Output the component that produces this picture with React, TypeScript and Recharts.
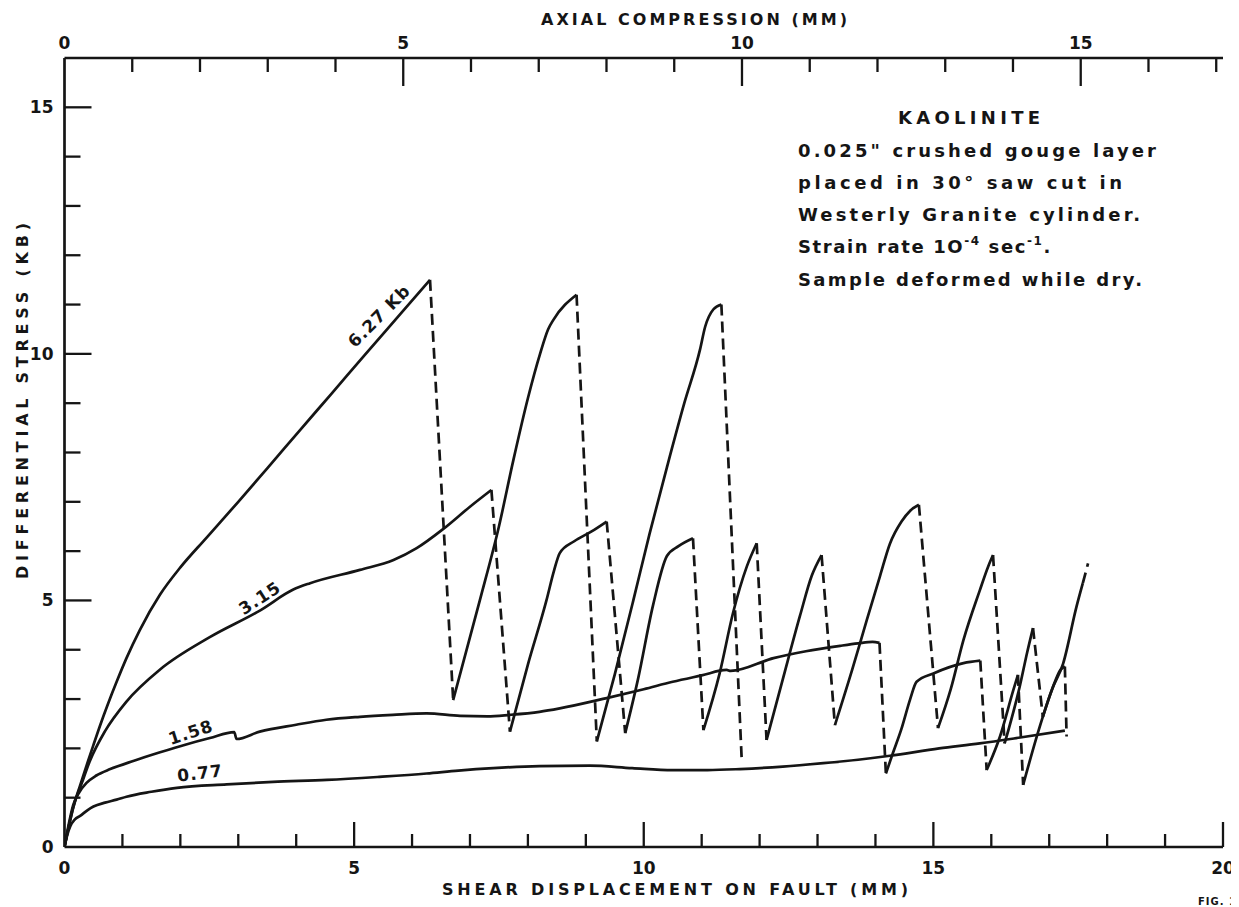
import React from 'react';
import { LineChart, Line, XAxis, YAxis, ReferenceDot } from 'recharts';

type Pt = [number, number];

// ---------- axis ticks ----------
const shearTicks = [0, 1, 2, 3, 4, 5, 6, 7, 8, 9, 10, 11, 12, 13, 14, 15, 16, 17, 18, 19, 20];
const shearTickLabels = [0, 5, 10, 15, 20];
const axialTicks = [0, 1, 2, 3, 4, 5, 6, 7, 8, 9, 10, 11, 12, 13, 14, 15, 16, 17];
const axialTickLabels = [0, 5, 10, 15];
const stressTicks = [0, 1, 2, 3, 4, 5, 6, 7, 8, 9, 10, 11, 12, 13, 14, 15];
const stressTickLabels = [0, 5, 10, 15];

// ---------- 6.27 Kb confining pressure (solid loading segments) ----------
const kb627Load1: Pt[] = [[0, 0], [0.08, 0.45], [0.15, 0.8], [0.27, 1.25], [0.4, 1.72], [0.5, 2.07], [0.61, 2.45], [0.75, 2.9], [0.9, 3.35], [1.07, 3.83], [1.3, 4.4], [1.65, 5.12], [2.0, 5.67], [2.45, 6.27], [3.0, 7.0], [3.5, 7.68], [4.07, 8.46], [4.6, 9.18], [5.2, 10.0], [5.8, 10.81], [6.31, 11.5]];
const kb627Load2: Pt[] = [[6.71, 2.98], [7.17, 5.0], [7.5, 6.5], [7.75, 7.85], [8.0, 9.1], [8.21, 10.0], [8.35, 10.5], [8.44, 10.69], [8.84, 11.2]];
const kb627Load3: Pt[] = [[9.19, 2.14], [9.5, 3.5], [9.82, 5.0], [10.1, 6.35], [10.4, 7.7], [10.7, 9.0], [10.97, 10.08], [11.06, 10.55], [11.2, 10.9], [11.34, 11.0]];
const kb627End: Pt[] = [[11.69, 1.8]];

// ---------- 3.15 Kb ----------
const kb315Load1: Pt[] = [[0, 0], [0.08, 0.45], [0.15, 0.8], [0.3, 1.3], [0.44, 1.75], [0.7, 2.35], [1.07, 2.95], [1.65, 3.6], [2.5, 4.25], [3.38, 4.8], [3.95, 5.22], [4.24, 5.35], [5.1, 5.62], [5.68, 5.82], [6.08, 6.06], [6.54, 6.45], [7.0, 6.9], [7.37, 7.24]];
const kb315Load2: Pt[] = [[7.69, 2.34], [8.0, 3.7], [8.32, 5.0], [8.45, 5.6], [8.55, 5.96], [8.8, 6.2], [9.1, 6.4], [9.36, 6.6]];
const kb315Load3: Pt[] = [[9.68, 2.31], [9.9, 3.4], [10.16, 4.9], [10.4, 5.9], [10.6, 6.1], [10.85, 6.26]];
const kb315Load4: Pt[] = [[11.03, 2.37], [11.31, 3.52], [11.54, 4.74], [11.78, 5.69], [11.95, 6.16]];
const kb315Load5: Pt[] = [[12.12, 2.17], [12.4, 3.4], [12.7, 4.7], [12.9, 5.5], [13.07, 5.92]];
const kb315Load6: Pt[] = [[13.3, 2.47], [13.6, 3.6], [13.85, 4.6], [14.08, 5.5], [14.25, 6.15], [14.45, 6.6], [14.6, 6.82], [14.75, 6.94]];
const kb315Load7: Pt[] = [[15.08, 2.41], [15.3, 3.2], [15.52, 4.2], [15.8, 5.2], [15.95, 5.7], [16.03, 5.92]];
const kb315Load8: Pt[] = [[16.23, 2.1], [16.49, 3.25], [16.62, 3.95], [16.72, 4.44]];
const kb315Load9: Pt[] = [[16.89, 2.64], [17.05, 3.2], [17.24, 3.72], [17.47, 4.87], [17.58, 5.35]];
const kb315End: Pt[] = [[17.67, 5.75]];

// ---------- 1.58 Kb ----------
const kb158Load1: Pt[] = [[0, 0], [0.08, 0.5], [0.15, 0.85], [0.25, 1.1], [0.38, 1.3], [0.55, 1.45], [0.79, 1.58], [1.2, 1.75], [1.65, 1.92], [2.1, 2.08], [2.51, 2.21], [2.93, 2.33], [2.97, 2.19], [3.37, 2.34], [4.0, 2.48], [4.52, 2.58], [5.1, 2.64], [5.67, 2.68], [6.25, 2.71], [6.83, 2.66], [7.3, 2.65], [7.69, 2.68], [8.2, 2.74], [8.55, 2.81], [9.36, 3.02], [10.0, 3.2], [10.5, 3.35], [11.0, 3.48], [11.43, 3.59], [11.5, 3.57], [12.24, 3.83], [12.8, 3.97], [13.39, 4.08], [13.7, 4.13], [13.95, 4.16], [14.07, 4.14]];
const kb158Load2: Pt[] = [[14.18, 1.49], [14.3, 1.9], [14.45, 2.4], [14.6, 3.0], [14.71, 3.35], [15.0, 3.52], [15.52, 3.73], [15.81, 3.78]];
const kb158Load3: Pt[] = [[15.92, 1.56], [16.15, 2.24], [16.38, 3.18], [16.46, 3.49]];
const kb158Load4: Pt[] = [[16.55, 1.26], [16.8, 2.3], [17.05, 3.2], [17.2, 3.6], [17.27, 3.66]];
const kb158End: Pt[] = [[17.3, 2.24]];

// ---------- 0.77 Kb ----------
const kb077Load1: Pt[] = [[0, 0], [0.05, 0.25], [0.1, 0.42], [0.18, 0.56], [0.27, 0.63], [0.4, 0.75], [0.5, 0.82], [0.7, 0.9], [0.9, 0.96], [1.07, 1.02], [1.5, 1.12], [1.94, 1.2], [2.8, 1.27], [3.6, 1.32], [4.53, 1.36], [5.4, 1.42], [6.25, 1.49], [6.8, 1.55], [7.4, 1.6], [8.2, 1.64], [9.07, 1.65], [9.8, 1.6], [10.5, 1.56], [11.1, 1.56], [11.66, 1.58], [12.4, 1.63], [13.1, 1.7], [13.7, 1.77], [14.25, 1.85], [15.1, 2.0], [15.8, 2.1], [16.5, 2.22], [17.27, 2.36]];

const curves = [
  { name: '6.27', segments: [kb627Load1, kb627Load2, kb627Load3, kb627End] },
  { name: '3.15', segments: [kb315Load1, kb315Load2, kb315Load3, kb315Load4, kb315Load5, kb315Load6, kb315Load7, kb315Load8, kb315Load9, kb315End] },
  { name: '1.58', segments: [kb158Load1, kb158Load2, kb158Load3, kb158Load4, kb158End] },
  { name: '0.77', segments: [kb077Load1] },
];

// label anchors (data units) for the confining pressure annotations
const curveLabels = [
  { text: '6.27 Kb', x: 5.43, y: 10.77, angle: -45 },
  { text: '3.15', x: 3.37, y: 5.05, angle: -33 },
  { text: '1.58', x: 2.18, y: 2.33, angle: -18 },
  { text: '0.77', x: 2.34, y: 1.5, angle: -7 },
];

const toRows = (pts: Pt[]) => pts.map(([x, y]) => ({ x, y }));

const solidSeries = curves.flatMap((c) =>
  c.segments
    .map((s, i) => ({ key: `${c.name}-solid-${i}`, data: toRows(s) }))
    .filter((s) => s.data.length > 1)
);
const dashedSeries = curves.flatMap((c) =>
  c.segments.slice(1).map((s, i) => {
    const prev = c.segments[i];
    return { key: `${c.name}-drop-${i}`, data: toRows([prev[prev.length - 1], s[0]]) };
  })
);

const INK = '#151515';
const FONT = '"DejaVu Sans", "Liberation Sans", sans-serif';

function BottomTick(props: any) {
  const { x, y, payload } = props;
  const v = payload.value;
  const major = v % 5 === 0;
  return (
    <g>
      {v !== 0 && <line x1={x} y1={y} x2={x} y2={y - (major ? 25 : 13)} stroke={INK} strokeWidth={2.3} />}
      {shearTickLabels.includes(v) && (
        <text x={x} y={y + 27} textAnchor="middle" fontFamily={FONT} fontWeight={700} fontSize={17} fill={INK}>
          {v}
        </text>
      )}
    </g>
  );
}

function TopTick(props: any) {
  const { x, y, payload } = props;
  const v = payload.value;
  const major = v % 5 === 0;
  return (
    <g>
      {v !== 0 && <line x1={x} y1={y} x2={x} y2={y + (major ? 28 : 14)} stroke={INK} strokeWidth={2.3} />}
      {axialTickLabels.includes(v) && (
        <text x={x} y={y - 9} textAnchor="middle" fontFamily={FONT} fontWeight={700} fontSize={17} fill={INK}>
          {v}
        </text>
      )}
    </g>
  );
}

function LeftTick(props: any) {
  const { x, y, payload } = props;
  const v = payload.value;
  const major = v % 5 === 0;
  return (
    <g>
      {v !== 0 && <line x1={x} y1={y} x2={x + (major ? 27 : 16)} y2={y} stroke={INK} strokeWidth={2.3} />}
      {stressTickLabels.includes(v) && (
        <text x={x - 11} y={y + 6} textAnchor="end" fontFamily={FONT} fontWeight={700} fontSize={17} fill={INK}>
          {v}
        </text>
      )}
    </g>
  );
}

function makeCurveLabel(text: string, angle: number) {
  return (props: any) => {
    const vb = props.viewBox || {};
    const cx = (vb.x ?? 0) + (vb.width ?? 0) / 2;
    const cy = (vb.y ?? 0) + (vb.height ?? 0) / 2;
    return (
      <text
        x={cx}
        y={cy}
        transform={`rotate(${angle} ${cx} ${cy})`}
        textAnchor="middle"
        dominantBaseline="central"
        fontFamily={FONT}
        fontWeight={700}
        fontSize={17}
        letterSpacing={1}
        fill={INK}
      >
        {text}
      </text>
    );
  };
}

const textStyle = { fontFamily: FONT, fontWeight: 700, fill: INK } as const;

export default function App() {
  return (
    <div style={{ position: 'relative', width: 1231, height: 899, background: '#fff' }}>
      <style>{'html,body{overflow:hidden;background:#fff}'}</style>
      <LineChart width={1231} height={891} margin={{ top: 0, right: 16, bottom: 0, left: 0 }}>
        <XAxis
          xAxisId="bottom"
          type="number"
          dataKey="x"
          domain={[0, 20]}
          ticks={shearTicks}
          interval={0}
          allowDataOverflow
          height={52}
          tickSize={0}
          tickMargin={0}
          tickLine={false}
          axisLine={{ stroke: INK, strokeWidth: 2.7 }}
          tick={<BottomTick />}
        />
        <XAxis
          xAxisId="top"
          orientation="top"
          type="number"
          dataKey="x"
          domain={[0, 17.1]}
          ticks={axialTicks}
          interval={0}
          allowDataOverflow
          height={50}
          tickSize={0}
          tickMargin={0}
          tickLine={false}
          axisLine={{ stroke: INK, strokeWidth: 2.7 }}
          tick={<TopTick />}
        />
        <YAxis
          yAxisId="left"
          type="number"
          domain={[0, 16]}
          ticks={stressTicks}
          interval={0}
          allowDataOverflow
          width={56.5}
          tickSize={0}
          tickMargin={0}
          tickLine={false}
          axisLine={{ stroke: INK, strokeWidth: 2.7 }}
          tick={<LeftTick />}
        />
        {solidSeries.map((s) => (
          <Line
            key={s.key}
            data={s.data}
            dataKey="y"
            xAxisId="bottom"
            yAxisId="left"
            type="monotone"
            stroke={INK}
            strokeWidth={2.7}
            dot={false}
            activeDot={false}
            legendType="none"
            isAnimationActive={false}
          />
        ))}
        {dashedSeries.map((s) => (
          <Line
            key={s.key}
            data={s.data}
            dataKey="y"
            xAxisId="bottom"
            yAxisId="left"
            type="linear"
            stroke={INK}
            strokeWidth={2.7}
            strokeDasharray="11 6"
            dot={false}
            activeDot={false}
            legendType="none"
            isAnimationActive={false}
          />
        ))}
        {curveLabels.map((l) => (
          <ReferenceDot
            key={l.text}
            x={l.x}
            y={l.y}
            xAxisId="bottom"
            yAxisId="left"
            r={0}
            fill="none"
            stroke="none"
            label={makeCurveLabel(l.text, l.angle)}
          />
        ))}
      </LineChart>
      <svg
        width={1231}
        height={899}
        style={{ position: 'absolute', left: 0, top: 0, pointerEvents: 'none' }}
      >
        <text x={533} y={17} fontSize={16} textLength={306} lengthAdjust="spacing" {...textStyle}>
          AXIAL COMPRESSION (MM)
        </text>
        <text x={434} y={887} fontSize={16} textLength={466} lengthAdjust="spacing" {...textStyle}>
          SHEAR DISPLACEMENT ON FAULT (MM)
        </text>
        <text
          x={0}
          y={0}
          transform="translate(20 393) rotate(-90)"
          textAnchor="middle"
          fontSize={16}
          textLength={356}
          lengthAdjust="spacing"
          {...textStyle}
        >
          DIFFERENTIAL STRESS (KB)
        </text>
        <text x={890} y={116} fontSize={18} textLength={142} lengthAdjust="spacing" {...textStyle}>
          KAOLINITE
        </text>
        <text x={790} y={149} fontSize={18} textLength={358} lengthAdjust="spacing" {...textStyle}>
          0.025" crushed gouge layer
        </text>
        <text x={790} y={181} fontSize={18} textLength={324} lengthAdjust="spacing" {...textStyle}>
          placed in 30° saw cut in
        </text>
        <text x={790} y={213} fontSize={18} textLength={342} lengthAdjust="spacing" {...textStyle}>
          Westerly Granite cylinder.
        </text>
        <text x={790} y={245} fontSize={18} letterSpacing={1.6} {...textStyle}>
          Strain rate 1O
          <tspan dy={-8} fontSize={12}>-4</tspan>
          <tspan dy={8}> sec</tspan>
          <tspan dy={-8} fontSize={12}>-1</tspan>
          <tspan dy={8}>.</tspan>
        </text>
        <text x={790} y={278} fontSize={18} textLength={344} lengthAdjust="spacing" {...textStyle}>
          Sample deformed while dry.
        </text>
        <text x={1190} y={897} fontSize={10} letterSpacing={1} {...textStyle}>
          FIG. 1
        </text>
      </svg>
    </div>
  );
}
